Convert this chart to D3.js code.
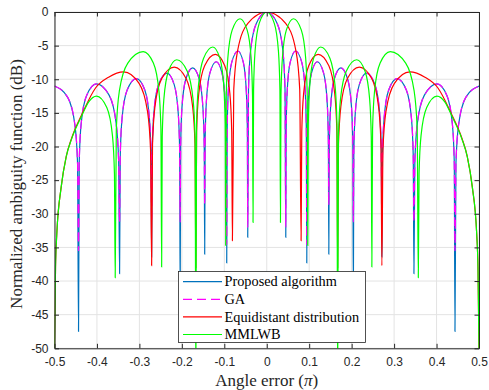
<!DOCTYPE html>
<html>
<head>
<meta charset="utf-8">
<script src="https://cdn.jsdelivr.net/npm/d3@7"></script>
<style>
    body { margin: 0; background: #fff; }
    #chart-area { width: 489px; height: 390px; }
</style>
</head>
<body>
<div id="chart-area"></div>
<script>

// angle error (units of pi) and normalized ambiguity (dB)
const angleProp = [
    -0.5, -0.4689, -0.4519, -0.4457, -0.4434,
    -0.4417, -0.437, -0.4243, -0.401, -0.3711, -0.3549, -0.3489, -0.3467,
    -0.3451, -0.3407, -0.3288, -0.307, -0.2873, -0.2766, -0.2726, -0.2712,
    -0.2698, -0.2658, -0.2549, -0.235, -0.218, -0.2087, -0.2052, -0.204,
    -0.2028, -0.1996, -0.1907, -0.1745, -0.1589, -0.1505, -0.1473, -0.1462,
    -0.1451, -0.1421, -0.134, -0.119, -0.1054, -0.098, -0.0953, -0.0943,
    -0.0932, -0.0904, -0.0825, -0.068, -0.0552, -0.0483, -0.0457, -0.0448,
    -0.043, -0.0381, -0.0246, 0,
    0.0246, 0.0381, 0.043,
    0.0448, 0.0457, 0.0483, 0.0552, 0.068, 0.0825, 0.0904, 0.0932,
    0.0943, 0.0953, 0.098, 0.1054, 0.119, 0.134, 0.1421, 0.1451,
    0.1462, 0.1473, 0.1505, 0.1589, 0.1745, 0.1907, 0.1996, 0.2028,
    0.204, 0.2052, 0.2087, 0.218, 0.235, 0.2549, 0.2658, 0.2698,
    0.2712, 0.2726, 0.2766, 0.2873, 0.307, 0.3288, 0.3407, 0.3451,
    0.3467, 0.3489, 0.3549, 0.3711, 0.401, 0.4243, 0.437, 0.4417,
    0.4434, 0.4457, 0.4519, 0.4689, 0.5
];

const proposedDb = [
    -11, -12.7, -16.8, -22.5, -47.5,
    -22.2, -16.5, -12.4, -10.7, -12.4, -16.5, -22.2, -38.9,
    -21.4, -15.7, -11.6, -9.9, -11.6, -15.7, -21.4, -36.4,
    -20.6, -14.9, -10.8, -9.1, -10.8, -14.9, -20.6, -42,
    -19.8, -14.1, -10, -8.3, -10, -14.1, -19.8, -36,
    -18.9, -13.2, -9.1, -7.4, -9.1, -13.2, -18.9, -37.3,
    -17.3, -11.6, -7.5, -5.8, -7.5, -11.6, -17.3, -33.5,
    -11.5, -5.8, -1.7, 0,
    -1.7, -5.8, -11.5,
    -33.5, -17.3, -11.6, -7.5, -5.8, -7.5, -11.6, -17.3,
    -37.3, -18.9, -13.2, -9.1, -7.4, -9.1, -13.2, -18.9,
    -36, -19.8, -14.1, -10, -8.3, -10, -14.1, -19.8,
    -42, -20.6, -14.9, -10.8, -9.1, -10.8, -14.9, -20.6,
    -36.4, -21.4, -15.7, -11.6, -9.9, -11.6, -15.7, -21.4,
    -38.9, -22.2, -16.5, -12.4, -10.7, -12.4, -16.5, -22.2,
    -47.5, -22.5, -16.8, -12.7, -11
];

// GA follows the proposed pattern but with shallower nulls
const gaDb = [
    -11, -12.7, -16.8, -22.5, -35.5,
    -22.2, -16.5, -12.4, -10.7, -12.4, -16.5, -22.2, -31.2,
    -21.4, -15.7, -11.6, -9.9, -11.6, -15.7, -21.4, -31,
    -20.6, -14.9, -10.8, -9.1, -10.8, -14.9, -20.6, -31.2,
    -19.8, -14.1, -10, -8.3, -10, -14.1, -19.8, -28.7,
    -18.9, -13.2, -9.1, -7.4, -9.1, -13.2, -18.9, -34.6,
    -17.3, -11.6, -7.5, -5.8, -7.5, -11.6, -17.3, -32,
    -11.5, -5.8, -1.7, 0,
    -1.7, -5.8, -11.5,
    -32, -17.3, -11.6, -7.5, -5.8, -7.5, -11.6, -17.3,
    -34.6, -18.9, -13.2, -9.1, -7.4, -9.1, -13.2, -18.9,
    -28.7, -19.8, -14.1, -10, -8.3, -10, -14.1, -19.8,
    -31.2, -20.6, -14.9, -10.8, -9.1, -10.8, -14.9, -20.6,
    -31, -21.4, -15.7, -11.6, -9.9, -11.6, -15.7, -21.4,
    -31.2, -22.2, -16.5, -12.4, -10.7, -12.4, -16.5, -22.2,
    -35.5, -22.5, -16.8, -12.7, -11
];

const angleEqui = [
    -0.5, -0.4976, -0.4946, -0.4842, -0.4724, -0.4599, -0.434, -0.4033, -0.3726, -0.337,
    -0.3008, -0.2811, -0.2738, -0.2712,
    -0.2691, -0.2632, -0.2473, -0.218, -0.19, -0.1747, -0.169, -0.167,
    -0.1652, -0.1601, -0.1463, -0.121, -0.0989, -0.0869, -0.0825, -0.0809,
    -0.0777, -0.0688, -0.0445, 0,
    0.0445, 0.0688, 0.0777,
    0.0809, 0.0825, 0.0869, 0.0989, 0.121, 0.1463, 0.1601, 0.1652,
    0.167, 0.169, 0.1747, 0.19, 0.218, 0.2473, 0.2632, 0.2691,
    0.2712, 0.2738, 0.2811, 0.3008,
    0.337, 0.3726, 0.4033, 0.434, 0.4599, 0.4724, 0.4842, 0.4946, 0.4976, 0.5
];

const equiDb = [
    -50, -38, -33, -26, -21.5, -18.8, -15, -11.3, -9.7, -8.9,
    -10.6, -14.7, -20.4, -37.7,
    -19.7, -14, -9.9, -8.2, -9.9, -14, -19.7, -38,
    -17.8, -12.1, -8, -6.3, -8, -12.1, -17.8, -34,
    -11.5, -5.8, -1.7, 0,
    -1.7, -5.8, -11.5,
    -34, -17.8, -12.1, -8, -6.3, -8, -12.1, -17.8,
    -38, -19.7, -14, -9.9, -8.2, -9.9, -14, -19.7,
    -37.7, -20.4, -14.7, -10.6,
    -8.9, -9.7, -11.3, -15, -18.8, -21.5, -26, -33, -38, -50
];

const angleMml = [
    -0.5, -0.4976, -0.4946, -0.4842, -0.4724, -0.4599, -0.4363, -0.4198, -0.401,
    -0.3768, -0.3636, -0.3588, -0.357,
    -0.3544, -0.3471, -0.3273, -0.291, -0.2671, -0.2541, -0.2493, -0.2476,
    -0.2462, -0.2423, -0.2316, -0.212, -0.1873, -0.1738, -0.1688, -0.167,
    -0.1654, -0.161, -0.149, -0.127, -0.1103, -0.1012, -0.0979, -0.0967,
    -0.0954, -0.0916, -0.0815, -0.063, -0.0461, -0.0369, -0.0335, -0.0323,
    -0.031, -0.0275, -0.0178, 0,
    0.0178, 0.0275, 0.031,
    0.0323, 0.0335, 0.0369, 0.0461, 0.063, 0.0815, 0.0916, 0.0954,
    0.0967, 0.0979, 0.1012, 0.1103, 0.127, 0.149, 0.161, 0.1654,
    0.167, 0.1688, 0.1738, 0.1873, 0.212, 0.2316, 0.2423, 0.2462,
    0.2476, 0.2493, 0.2541, 0.2671, 0.291, 0.3273, 0.3471, 0.3544,
    0.357, 0.3588, 0.3636, 0.3768,
    0.401, 0.4198, 0.4363, 0.4599, 0.4724, 0.4842, 0.4946, 0.4976, 0.5
];

const mmlDb = [
    -50, -38, -33, -26, -21.5, -18.9, -15.5, -13.4, -12.5,
    -14.2, -18.3, -24, -39.5,
    -17.4, -11.7, -7.6, -5.9, -7.6, -11.7, -17.4, -37.9,
    -18.6, -12.9, -8.8, -7.1, -8.8, -12.9, -18.6, -56,
    -16.7, -11, -6.9, -5.2, -6.9, -11, -16.7, -34.7,
    -12.5, -6.8, -2.7, -1, -2.7, -6.8, -12.5, -31.3,
    -11.5, -5.8, -1.7, 0,
    -1.7, -5.8, -11.5,
    -31.3, -12.5, -6.8, -2.7, -1, -2.7, -6.8, -12.5,
    -34.7, -16.7, -11, -6.9, -5.2, -6.9, -11, -16.7,
    -56, -18.6, -12.9, -8.8, -7.1, -8.8, -12.9, -18.6,
    -37.9, -17.4, -11.7, -7.6, -5.9, -7.6, -11.7, -17.4,
    -39.5, -24, -18.3, -14.2,
    -12.5, -13.4, -15.5, -18.9, -21.5, -26, -33, -38, -50
];

const seriesNames = ["Proposed algorithm", "GA", "Equidistant distribution", "MMLWB"];
const xTickValues = [-0.5, -0.4, -0.3, -0.2, -0.1, 0, 0.1, 0.2, 0.3, 0.4, 0.5];
const yTickValues = [0, -5, -10, -15, -20, -25, -30, -35, -40, -45, -50];

// line styles, same order as seriesNames
const seriesColors = ["#0072bd", "#ff00ff", "#ff0000", "#00ff00"];
const seriesDash = [null, "9,5", null, null];


class AmbiguityVis {

    constructor(_parentElement, _data) {
        this.parentElement = _parentElement;
        this.data = _data;

        this.initVis();
    }

    initVis() {
        let vis = this;

        vis.margin = {top: 12, right: 10, bottom: 41.7, left: 54.5};
        vis.width = 489 - vis.margin.left - vis.margin.right;
        vis.height = 390 - vis.margin.top - vis.margin.bottom;

        vis.svg = d3.select("#" + vis.parentElement).append("svg")
            .attr("width", 489)
            .attr("height", 390)
            .style("font-family", "'Liberation Sans', Arial, sans-serif");

        vis.g = vis.svg.append("g")
            .attr("transform", `translate(${vis.margin.left}, ${vis.margin.top})`);

        vis.x = d3.scaleLinear().domain([-0.5, 0.5]).range([0, vis.width]);
        vis.y = d3.scaleLinear().domain([-50, 0]).range([vis.height, 0]);

        vis.g.append("clipPath")
            .attr("id", "plot-clip")
            .append("rect")
            .attr("width", vis.width)
            .attr("height", vis.height);

        // grid
        vis.g.append("g").attr("class", "grid")
            .selectAll("line.gx")
            .data(xTickValues)
            .enter().append("line")
            .attr("x1", d => vis.x(d)).attr("x2", d => vis.x(d))
            .attr("y1", 0).attr("y2", vis.height)
            .attr("stroke", "#e3e3e3");
        vis.g.select(".grid")
            .selectAll("line.gy")
            .data(yTickValues)
            .enter().append("line")
            .attr("x1", 0).attr("x2", vis.width)
            .attr("y1", d => vis.y(d)).attr("y2", d => vis.y(d))
            .attr("stroke", "#e3e3e3");

        vis.line = d3.line()
            .x(d => vis.x(d[0]))
            .y(d => vis.y(d[1]))
            .curve(d3.curveMonotoneX);

        vis.lineGroup = vis.g.append("g").attr("clip-path", "url(#plot-clip)");

        // axes, ticks pointing inward on all four sides
        let fmt = d => String(d);
        vis.xAxis = vis.g.append("g")
            .attr("transform", `translate(0, ${vis.height})`)
            .call(d3.axisBottom(vis.x).tickValues(xTickValues).tickFormat(fmt)
                .tickSizeInner(-4.5).tickSizeOuter(0).tickPadding(9));
        vis.g.append("g")
            .call(d3.axisTop(vis.x).tickValues(xTickValues).tickFormat("")
                .tickSizeInner(-4.5).tickSizeOuter(0));
        vis.yAxis = vis.g.append("g")
            .call(d3.axisLeft(vis.y).tickValues(yTickValues).tickFormat(fmt)
                .tickSizeInner(-4.5).tickSizeOuter(0).tickPadding(6));
        vis.g.append("g")
            .attr("transform", `translate(${vis.width}, 0)`)
            .call(d3.axisRight(vis.y).tickValues(yTickValues).tickFormat("")
                .tickSizeInner(-4.5).tickSizeOuter(0));

        vis.g.selectAll(".domain, .tick line").attr("stroke", "#262626");
        vis.g.selectAll(".tick text")
            .attr("fill", "#262626")
            .style("font-size", "12px")
            .style("font-family", "'Liberation Sans', Arial, sans-serif");

        // axis titles
        vis.svg.append("text")
            .attr("x", vis.margin.left + vis.width / 2)
            .attr("y", 386)
            .attr("text-anchor", "middle")
            .style("font-family", "'Liberation Serif', 'Times New Roman', serif")
            .style("font-size", "17px")
            .attr("fill", "#262626")
            .html("Angle error (<tspan font-style='italic'>π</tspan>)");

        vis.svg.append("text")
            .attr("transform", `translate(21.5, 184) rotate(-90)`)
            .attr("text-anchor", "middle")
            .style("font-family", "'Liberation Serif', 'Times New Roman', serif")
            .style("font-size", "17px")
            .attr("fill", "#262626")
            .text("Normalized ambiguity function (dB)");

        vis.legendGroup = vis.svg.append("g");

        vis.wrangleData();
    }

    wrangleData() {
        let vis = this;

        vis.displayData = vis.data.map((s, i) => ({
            name: s.name,
            points: d3.zip(s.angle, s.db),
            color: seriesColors[i],
            dash: seriesDash[i]
        }));

        vis.updateVis();
    }

    updateVis() {
        let vis = this;

        vis.lineGroup.selectAll(".curve")
            .data(vis.displayData)
            .enter().append("path")
            .attr("class", "curve")
            .attr("fill", "none")
            .attr("stroke", d => d.color)
            .attr("stroke-width", 1.2)
            .attr("stroke-dasharray", d => d.dash)
            .attr("d", d => vis.line(d.points));

        // legend box
        let lx = 178.5, ly = 271.5, rowH = 17.6;
        vis.legendGroup.append("rect")
            .attr("x", lx).attr("y", ly)
            .attr("width", 187).attr("height", 71)
            .attr("fill", "#fff")
            .attr("stroke", "#262626")
            .attr("stroke-width", 0.8);

        let rows = vis.legendGroup.selectAll(".legend-row")
            .data(vis.displayData)
            .enter().append("g")
            .attr("class", "legend-row")
            .attr("transform", (d, i) => `translate(${lx}, ${ly + 10.2 + i * rowH})`);

        rows.append("line")
            .attr("x1", 4.5).attr("x2", 43.5)
            .attr("stroke", d => d.color)
            .attr("stroke-width", 1.2)
            .attr("stroke-dasharray", d => d.dash);

        rows.append("text")
            .attr("x", 46)
            .attr("dy", "0.33em")
            .style("font-family", "'Liberation Serif', 'Times New Roman', serif")
            .style("font-size", "14.3px")
            .attr("fill", "#000")
            .text(d => d.name);
    }
}

let series = [
    {name: seriesNames[0], angle: angleProp, db: proposedDb},
    {name: seriesNames[1], angle: angleProp, db: gaDb},
    {name: seriesNames[2], angle: angleEqui, db: equiDb},
    {name: seriesNames[3], angle: angleMml, db: mmlDb}
];

let ambiguityVis = new AmbiguityVis("chart-area", series);

</script>
</body>
</html>
